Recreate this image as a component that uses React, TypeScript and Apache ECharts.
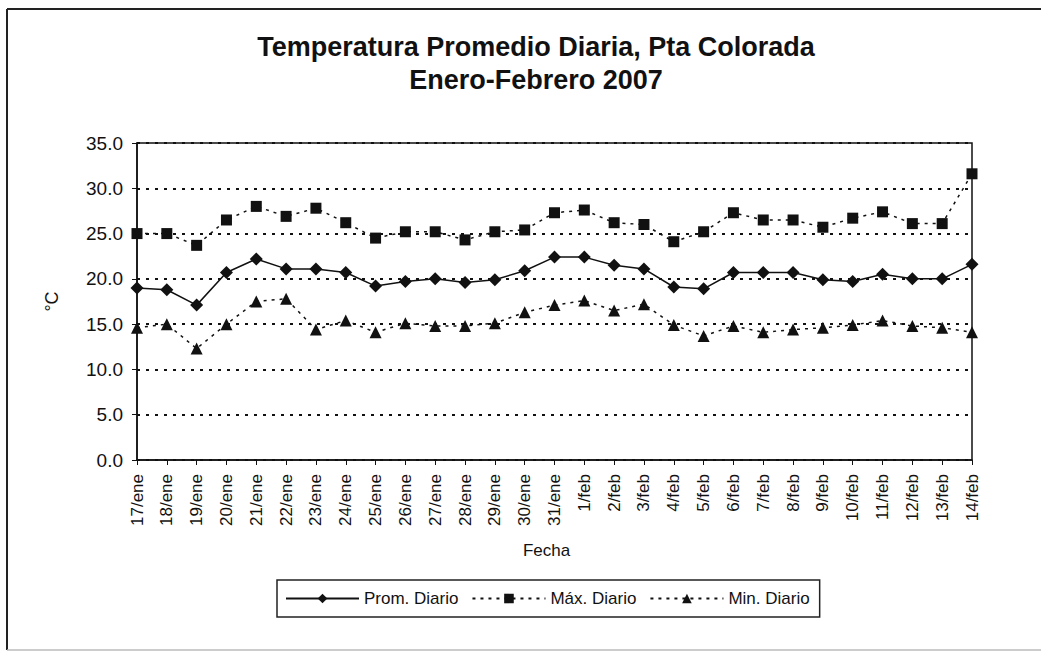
import React, { useEffect, useRef } from "react";
import * as echarts from "echarts";

const categories = [
  "17/ene", "18/ene", "19/ene", "20/ene", "21/ene", "22/ene", "23/ene", "24/ene", "25/ene", "26/ene",
  "27/ene", "28/ene", "29/ene", "30/ene", "31/ene", "1/feb", "2/feb", "3/feb", "4/feb", "5/feb",
  "6/feb", "7/feb", "8/feb", "9/feb", "10/feb", "11/feb", "12/feb", "13/feb", "14/feb",
];
const promDiario = [
  19.0, 18.8, 17.1, 20.7, 22.2, 21.1, 21.1, 20.7, 19.2, 19.7,
  20.0, 19.6, 19.9, 20.9, 22.4, 22.4, 21.5, 21.1, 19.1, 18.9,
  20.7, 20.7, 20.7, 19.9, 19.7, 20.5, 20.0, 20.0, 21.6,
];
const maxDiario = [
  25.0, 25.0, 23.7, 26.5, 28.0, 26.9, 27.8, 26.2, 24.5, 25.2,
  25.2, 24.3, 25.2, 25.4, 27.3, 27.6, 26.2, 26.0, 24.1, 25.2,
  27.3, 26.5, 26.5, 25.7, 26.7, 27.4, 26.1, 26.1, 31.6,
];
const minDiario = [
  14.6, 15.0, 12.3, 15.0, 17.5, 17.8, 14.4, 15.4, 14.1, 15.1,
  14.8, 14.8, 15.1, 16.3, 17.1, 17.6, 16.5, 17.2, 14.9, 13.7,
  14.8, 14.1, 14.4, 14.6, 14.9, 15.4, 14.8, 14.6, 14.1,
];
const seriesNames = ["Prom. Diario", "Máx. Diario", "Min. Diario"];
const titleLines = ["Temperatura Promedio Diaria, Pta Colorada", "Enero-Febrero 2007"];

const FONT = "'Liberation Sans', Arial, sans-serif";

export default function App() {
  const ref = useRef<HTMLDivElement>(null);
  useEffect(() => {
    document.body.style.margin = "0";
    const chart = echarts.init(ref.current!, null, { renderer: "svg" });
    const dotted = [3, 5];
    chart.setOption({
      animation: false,
      backgroundColor: "#fff",
      textStyle: { fontFamily: FONT, color: "#111" },
      title: {
        text: titleLines.join("\n"),
        left: 531,
        textAlign: "center",
        top: 25,
        textStyle: { fontSize: 27, fontWeight: "bold", color: "#111", lineHeight: 33, fontFamily: FONT },
      },
      graphic: [
        { type: "line", shape: { x1: 7, y1: 9, x2: 1041, y2: 9 }, style: { stroke: "#222", lineWidth: 2 } },
        { type: "line", shape: { x1: 7, y1: 9, x2: 7, y2: 650 }, style: { stroke: "#222", lineWidth: 2 } },
        { type: "line", shape: { x1: 7, y1: 650, x2: 1041, y2: 650 }, style: { stroke: "#bbb", lineWidth: 1.5 } },
      ],
      legend: {
        data: seriesNames,
        left: 277,
        top: 580,
        padding: [10, 10, 10, 8],
        itemGap: 13,
        itemWidth: 73,
        itemHeight: 12,
        borderColor: "#222",
        borderWidth: 1.5,
        textStyle: { fontSize: 17, color: "#111", fontFamily: FONT },
      },
      grid: {
        left: 137,
        right: 69,
        top: 143,
        bottom: 193,
        show: true,
        borderColor: "#111",
        borderWidth: 1.5,
      },
      xAxis: {
        type: "category",
        data: categories,
        boundaryGap: false,
        name: "Fecha",
        nameLocation: "middle",
        nameGap: 82,
        nameTextStyle: { fontSize: 17, color: "#111", fontFamily: FONT, padding: [0, 16, 0, 0] },
        axisLine: { lineStyle: { color: "#111", width: 1.5 } },
        axisTick: { show: true, alignWithLabel: true, length: 5, lineStyle: { color: "#111" } },
        axisLabel: { rotate: 90, fontSize: 17, color: "#111", margin: 14, interval: 0, fontFamily: FONT },
        splitLine: { show: false },
      },
      yAxis: {
        type: "value",
        min: 0,
        max: 35,
        interval: 5,
        name: "°C",
        nameLocation: "middle",
        nameGap: 76,
        nameRotate: 90,
        nameTextStyle: { fontSize: 18, color: "#111", fontFamily: FONT },
        axisLine: { show: true, lineStyle: { color: "#111", width: 1.5 } },
        axisTick: { show: true, length: 5, lineStyle: { color: "#111" } },
        axisLabel: { fontSize: 19, color: "#111", margin: 14, formatter: (v: number) => v.toFixed(1), fontFamily: FONT },
        splitLine: { show: true, lineStyle: { color: "#111", width: 2, type: [3, 6] } },
      },
      series: [
        {
          name: seriesNames[0],
          type: "line",
          data: promDiario,
          symbol: "diamond",
          symbolSize: 13,
          itemStyle: { color: "#111" },
          lineStyle: { color: "#111", width: 1.5, type: "solid" },
          z: 5,
        },
        {
          name: seriesNames[1],
          type: "line",
          data: maxDiario,
          symbol: "rect",
          symbolSize: 11,
          itemStyle: { color: "#111" },
          lineStyle: { color: "#111", width: 1.5, type: dotted },
        },
        {
          name: seriesNames[2],
          type: "line",
          data: minDiario,
          symbol: "triangle",
          symbolSize: 12,
          itemStyle: { color: "#111" },
          lineStyle: { color: "#111", width: 1.5, type: dotted },
        },
      ],
    });
    return () => chart.dispose();
  }, []);
  return <div ref={ref} style={{ width: 1041, height: 653 }} />;
}
